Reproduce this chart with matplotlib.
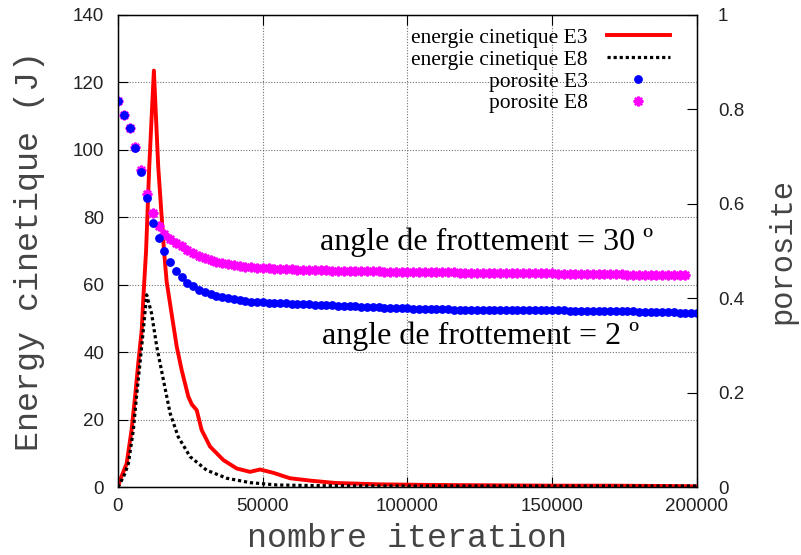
import numpy as np
import matplotlib
matplotlib.use("Agg")
import matplotlib.pyplot as plt

# energie cinetique (J)
e3_iter = [0, 700, 3000, 4700, 5900, 7000, 8200, 8750, 9700, 10800, 12400,
           13900, 15900, 16800, 18500, 20300, 22000, 24300, 25500, 27200,
           28900, 31800, 36400, 41000, 45600, 49100, 53700, 59400, 66400,
           75000, 90000, 110000, 130000, 150000, 170000, 190000, 200000]
e3_energy = [0, 2, 7, 17, 26.8, 36.7, 46.6, 56, 70, 95, 123.5,
             95, 70, 61, 51.5, 41.6, 34.7, 26.8, 24.5, 22.8,
             16.9, 12, 8, 5.5, 4.5, 5.2, 4.2, 2.6, 1.9,
             1.2, 0.8, 0.6, 0.5, 0.4, 0.4, 0.3, 0.2]

e8_iter = [0, 700, 2400, 3600, 5300, 6400, 7600, 8750, 9900, 11600, 13400,
           15700, 18000, 20800, 24900, 30600, 37600, 45600, 55000, 70000,
           90000, 120000, 150000, 180000, 200000]
e8_energy = [0, 1, 4, 7, 16.9, 26.8, 36.7, 46.6, 57, 51.5, 41.6,
             31.7, 21.9, 14.9, 9, 5, 2.6, 1.3, 0.6, 0.4,
             0.3, 0.3, 0.3, 0.3, 0.3]

# porosite, one point every 2000 iterations
por_e3_iter = np.arange(0, 200001, 2000)
por_e3 = [0.818, 0.788, 0.760, 0.718, 0.668, 0.613, 0.560, 0.528, 0.500, 0.476,
          0.458, 0.444, 0.433, 0.425, 0.418, 0.413, 0.409, 0.405, 0.402, 0.400,
          0.398, 0.396, 0.394, 0.393, 0.392, 0.391, 0.390, 0.390, 0.389, 0.389,
          0.388,
          0.388, 0.387, 0.387, 0.386,
          0.386, 0.385, 0.385, 0.384, 0.384,
          0.383, 0.383, 0.382, 0.382, 0.381,
          0.381, 0.380, 0.380, 0.379, 0.379,
          0.379, 0.378, 0.378, 0.378, 0.377,
          0.377, 0.377, 0.377, 0.376, 0.376,
          0.376, 0.376, 0.376, 0.375, 0.375,
          0.375, 0.375, 0.375, 0.375, 0.375,
          0.375, 0.374, 0.374, 0.374, 0.374,
          0.374, 0.374, 0.374, 0.373, 0.373,
          0.373, 0.373, 0.373, 0.373, 0.372,
          0.372, 0.372, 0.372, 0.372, 0.372,
          0.371, 0.371, 0.371, 0.371, 0.370,
          0.370, 0.370, 0.369, 0.369, 0.369,
          0.369]

por_e8_iter = np.arange(0, 196001, 2000)
por_e8 = [0.818, 0.788, 0.760, 0.720, 0.672, 0.620, 0.580, 0.552, 0.537, 0.526,
          0.517, 0.510, 0.503, 0.496, 0.490, 0.485, 0.481, 0.477, 0.474, 0.472,
          0.470, 0.468, 0.467, 0.466, 0.465, 0.464, 0.463, 0.462, 0.462, 0.461,
          0.461,
          0.460, 0.460, 0.460, 0.459,
          0.459, 0.459, 0.458, 0.458, 0.458,
          0.458, 0.457, 0.457, 0.457, 0.457,
          0.457, 0.456, 0.456, 0.456, 0.456,
          0.456, 0.456, 0.455, 0.455, 0.455,
          0.455, 0.455, 0.455, 0.455, 0.454,
          0.454, 0.454, 0.454, 0.454, 0.454,
          0.454, 0.454, 0.453, 0.453, 0.453,
          0.453, 0.453, 0.453, 0.453, 0.453,
          0.453, 0.452, 0.452, 0.452, 0.452,
          0.452, 0.452, 0.451, 0.451, 0.451,
          0.451, 0.451, 0.451, 0.450, 0.450,
          0.450, 0.450, 0.450, 0.450, 0.449,
          0.449, 0.449, 0.449, 0.449]

mono = "Liberation Mono"
serif = "Liberation Serif"
sans = "Liberation Sans"

fig = plt.figure(figsize=(8.01, 5.55), dpi=100)
ax = fig.add_axes([0.1473, 0.1225, 0.7228, 0.8505])
ax2 = ax.twinx()

l1, = ax.plot(e3_iter, e3_energy, color="#ff0000", lw=2.8,
              label="energie cinetique E3")
l2, = ax.plot(e8_iter, e8_energy, color="black", lw=2.3, ls=(0, (1, 0.9)),
              label="energie cinetique E8")
l4, = ax2.plot(por_e8_iter, por_e8, ls="none", marker=(8, 2, 0), ms=7,
               mew=1.7, color="#ff00ff", mec="#ff00ff", label="porosite E8")
l3, = ax2.plot(por_e3_iter, por_e3, ls="none", marker="o", ms=5.3,
               color="#0000ff", mec="#0000ff", label="porosite E3")

ax.set_xlim(0, 200000)
ax.set_ylim(0, 140)
ax2.set_ylim(0, 1)
ax.set_xticks([0, 50000, 100000, 150000, 200000])
ax.set_yticks(np.arange(0, 141, 20))
ax2.set_yticks([0, 0.2, 0.4, 0.6, 0.8, 1])
ax2.set_yticklabels(["0", "0.2", "0.4", "0.6", "0.8", "1"])

ax.grid(True, color="0.45", ls=(0, (1, 1.5)), lw=0.8)
ax.tick_params(direction="in", top=True, length=7, width=0.8, labelsize=13.5)
ax.tick_params(axis="y", pad=10)
ax.tick_params(axis="x", pad=8)
ax2.tick_params(direction="in", length=7, width=0.8, pad=15, labelsize=13.5)
for lab in ax.get_xticklabels() + ax.get_yticklabels() + ax2.get_yticklabels():
    lab.set_fontfamily(sans)
    lab.set_color("#222222")

ax.set_xlabel("nombre iteration", fontfamily=mono, fontsize=24, labelpad=6,
              color="#444444")
ax.set_ylabel("Energy cinetique (J)", fontfamily=mono, fontsize=24,
              labelpad=20, color="#444444")
ax2.set_ylabel("porosite", fontfamily=mono, fontsize=22, labelpad=17,
               color="#444444")

ax.text(69800, 70.3, "angle de frottement = 30 º", fontfamily=serif,
        fontsize=23, va="baseline", ha="left")
ax.text(70500, 42.4, "angle de frottement = 2 º", fontfamily=serif,
        fontsize=23, va="baseline", ha="left")

leg = ax2.legend(handles=[l1, l2, l3, l4], loc="upper right",
                 bbox_to_anchor=(0.975, 1.0), frameon=False,
                 markerfirst=False, prop={"family": serif, "size": 15.5},
                 handlelength=2.9, labelspacing=0.08, handletextpad=0.9,
                 borderaxespad=0.2)
for col in leg._legend_handle_box.get_children():
    col.align = "right"

for sp in ax.spines.values():
    sp.set_linewidth(1.0)

plt.savefig("out.png", dpi=100)
